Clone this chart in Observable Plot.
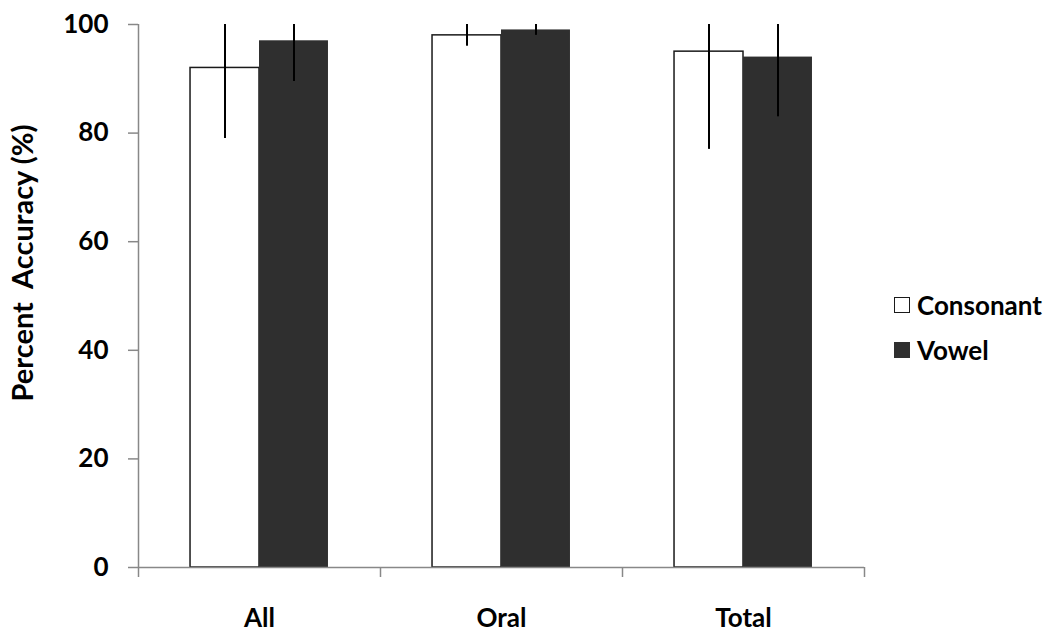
<!DOCTYPE html>
<html>
<head>
<meta charset="utf-8">
<script src="https://cdn.jsdelivr.net/npm/d3@7"></script>
<script src="https://cdn.jsdelivr.net/npm/@observablehq/plot@0.6"></script>
<style>
  html, body { margin: 0; padding: 0; background: #fff; }
  #wrap { position: relative; width: 1050px; height: 638px; font-family: Lato, "Open Sans", sans-serif; }
  .leg { position: absolute; display: flex; align-items: center; font: bold 26px Lato, sans-serif; color: #000; line-height: 26px; }
  .sw { width: 14px; height: 14px; margin-right: 7px; box-sizing: content-box; }
  .ylab { position: absolute; left: 21px; top: 263px; transform: translate(-50%, -50%) rotate(-90deg);
          font: bold 29px Lato, sans-serif; color: #000; white-space: pre; line-height: 1; }
</style>
</head>
<body>
<div id="wrap"></div>
<script>
const categories = ["All", "Oral", "Total"];
const series = ["Consonant", "Vowel"];
const consonant = [92, 98, 95];
const vowel = [97, 99, 94];
const consonantErr = [13, 2, 18];
const vowelErr = [7.5, 1, 11];
const yTicks = [0, 20, 40, 60, 80, 100];
const yLabel = "Percent  Accuracy (%)";

const colors = { Consonant: "#ffffff", Vowel: "#2f2f2f" };
const outline = { Consonant: "#1a1a1a", Vowel: "none" };

const data = categories.flatMap((c, i) => [
  { cat: c, i, series: "Consonant", value: consonant[i], err: consonantErr[i] },
  { cat: c, i, series: "Vowel", value: vowel[i], err: vowelErr[i] }
]);

// layout within each category band (fractions of band)
const gap = 0.215, bw = 0.285;
const x1 = d => d.i + gap + (d.series === "Vowel" ? bw : 0);
const x2 = d => x1(d) + bw;
const xc = d => x1(d) + bw / 2;

const chart = Plot.plot({
  width: 1050,
  height: 638,
  marginLeft: 138,
  marginRight: 186,
  marginTop: 24,
  marginBottom: 71,
  style: { color: "black", background: "white", fontFamily: "Lato, 'Open Sans', sans-serif" },
  x: { type: "linear", domain: [0, categories.length], axis: null },
  y: { domain: [0, 100], axis: null },
  marks: [
    Plot.rectY(data, {
      x1, x2, y1: 0, y2: "value",
      fill: d => colors[d.series],
      stroke: d => outline[d.series],
      strokeWidth: 1.5
    }),
    Plot.ruleX(data, {
      x: xc,
      y1: d => d.value - d.err,
      y2: d => Math.min(100, d.value + d.err),
      stroke: "#000",
      strokeWidth: 2
    }),
    Plot.ruleX([0], { stroke: "#888", strokeWidth: 1.5 }),
    Plot.ruleY([0], { stroke: "#888", strokeWidth: 1.5 }),
    Plot.axisY({
      ticks: yTicks, tickSize: 10, tickPadding: 20, stroke: "#888", strokeWidth: 1.5,
      fontSize: 26, fontWeight: "bold", fill: "#000", label: null, tickFormat: d => String(d)
    }),
    Plot.axisX({
      ticks: d3.range(categories.length + 1), tickSize: 10, stroke: "#888", strokeWidth: 1.5,
      tickFormat: () => "", label: null
    }),
    Plot.axisX({
      ticks: categories.map((c, i) => i + 0.5), tickSize: 0, tickPadding: 41,
      tickFormat: d => categories[Math.floor(d)],
      fontSize: 26, fontWeight: "bold", fill: "#000", label: null
    })
  ]
});

const wrap = document.getElementById("wrap");
wrap.appendChild(chart);

const yl = document.createElement("div");
yl.className = "ylab";
yl.textContent = yLabel;
wrap.appendChild(yl);

const legendPos = [{ s: "Consonant", top: 292 }, { s: "Vowel", top: 337 }];
legendPos.forEach(({ s, top }) => {
  const row = document.createElement("div");
  row.className = "leg";
  row.style.left = "894px";
  row.style.top = top + "px";
  row.style.height = "26px";
  const sw = document.createElement("div");
  sw.className = "sw";
  sw.style.background = colors[s];
  sw.style.border = s === "Consonant" ? "1.5px solid #1a1a1a" : "1.5px solid " + colors[s];
  const t = document.createElement("span");
  t.textContent = s;
  row.appendChild(sw);
  row.appendChild(t);
  wrap.appendChild(row);
});
</script>
</body>
</html>
